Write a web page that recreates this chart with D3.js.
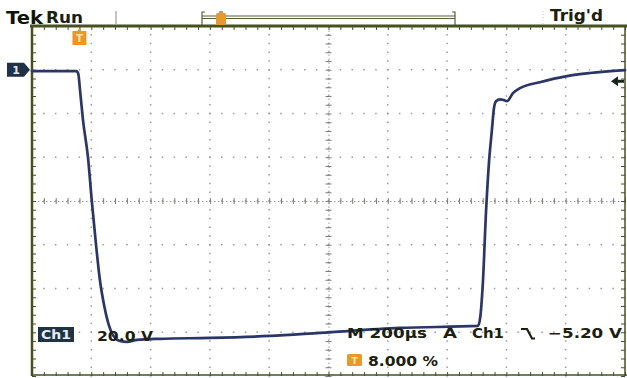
<!DOCTYPE html>
<html><head><meta charset="utf-8">
<script src="https://cdn.jsdelivr.net/npm/d3@7"></script>
<style>html,body{margin:0;padding:0;background:#fff;}svg{display:block;}</style>
</head><body>
<script>
// Waveform samples (time in µs relative to trigger, voltage in V)
const timeUs = [-160, -10, -4, 2, 12, 29, 42, 56, 69, 83, 96, 113, 137, 160, 194, 272, 440, 643, 811, 1081, 1344, 1351, 1361, 1371, 1381, 1391, 1398, 1405, 1418, 1432, 1442, 1462, 1486, 1553, 1644, 1722, 1840];
const volts  = [-0.6, -0.6, -1.8, -9.3, -23, -40.3, -60.5, -80.1, -96.1, -107.5, -115.3, -121.3, -124, -124.4, -123.5, -123, -122.6, -121.7, -120.3, -118, -117.1, -113.9, -96.5, -65.7, -42.8, -27.7, -17.6, -14.4, -13.5, -13.9, -14.4, -10.7, -8.4, -5.7, -2.9, -1.5, -0.2];
// Screen settings
const timeDomain = [-160, 1840];   // 10 div x 200 µs, trigger at 8 %
const voltDomain = [-140, 20];     // 8 div x 20 V, ground 1 div below top
const timePerDiv = 200, voltPerDiv = 20;
const triggerLevel = -5.20;
const headerLabels = ["Tek", "Run", "Trig'd"];
const footerLabels = ["Ch1", "20.0 V", "M 200µs", "A", "Ch1", "−5.20 V", "8.000 %"];

const W = 627, H = 378;
const L = 32, R = 625, T = 26, B = 376;
const x = d3.scaleLinear().domain(timeDomain).range([L, R]);
const y = d3.scaleLinear().domain(voltDomain).range([B, T]);

const svg = d3.select("body").append("svg").attr("width", W).attr("height", H)
  .style("font-family", "'DejaVu Sans', sans-serif");
svg.append("rect").attr("width", W).attr("height", H).attr("fill", "#fff");

const frameCol = "#45521f", gridCol = "#9a9a96", textCol = "#1b200f", traceCol = "#2a3766", orange = "#e59a2e";

// Grid dots
const g = svg.append("g");
const majorT = d3.range(timeDomain[0], timeDomain[1] + 1, timePerDiv);
const majorV = d3.range(voltDomain[0], voltDomain[1] + 1, voltPerDiv);
const minorT = d3.range(timeDomain[0], timeDomain[1] + 1, timePerDiv / 5);
const minorV = d3.range(voltDomain[0], voltDomain[1] + 1, voltPerDiv / 5);
majorT.slice(1, -1).forEach(t => {
  minorV.forEach(v => g.append("rect").attr("x", x(t) - 0.75).attr("y", y(v) - 0.75).attr("width", 1.5).attr("height", 1.5).attr("fill", gridCol));
});
majorV.slice(1, -1).forEach(v => {
  minorT.forEach(t => g.append("rect").attr("x", x(t) - 0.75).attr("y", y(v) - 0.75).attr("width", 1.5).attr("height", 1.5).attr("fill", gridCol));
});

// Center crosshair with ticks
const tc = (timeDomain[0] + timeDomain[1]) / 2, vc = (voltDomain[0] + voltDomain[1]) / 2;
svg.append("g").attr("transform", `translate(0,${y(vc)})`)
  .call(d3.axisBottom(x).tickValues(minorT).tickSize(3).tickFormat(""))
  .call(s => { s.select(".domain").attr("stroke", gridCol).attr("stroke-dasharray", "1.5,2.5"); s.selectAll(".tick line").attr("stroke", "#7d7d78").attr("y1", -3); });
svg.append("g").attr("transform", `translate(${x(tc)},0)`)
  .call(d3.axisLeft(y).tickValues(minorV).tickSize(3).tickFormat(""))
  .call(s => { s.select(".domain").attr("stroke", gridCol).attr("stroke-dasharray", "1.5,2.5"); s.selectAll(".tick line").attr("stroke", "#7d7d78").attr("x1", 3); });

// Border ticks (inward)
function borderAxis(axis, tr) {
  svg.append("g").attr("transform", tr).call(axis.tickFormat(""))
    .call(s => { s.select(".domain").remove(); s.selectAll(".tick line").attr("stroke", frameCol).attr("stroke-width", 1); });
}
borderAxis(d3.axisBottom(x).tickValues(minorT).tickSize(4), `translate(0,${T})`);
borderAxis(d3.axisTop(x).tickValues(minorT).tickSize(4), `translate(0,${B})`);
borderAxis(d3.axisRight(y).tickValues(minorV).tickSize(4), `translate(${L},0)`);
borderAxis(d3.axisLeft(y).tickValues(minorV).tickSize(4), `translate(${R},0)`);

// Frame
svg.append("line").attr("x1", L - 2).attr("x2", W).attr("y1", T).attr("y2", T).attr("stroke", frameCol).attr("stroke-width", 2.8);
svg.append("line").attr("x1", L).attr("x2", L).attr("y1", T).attr("y2", B).attr("stroke", frameCol).attr("stroke-width", 2.5);
svg.append("line").attr("x1", R).attr("x2", R).attr("y1", T).attr("y2", B).attr("stroke", frameCol).attr("stroke-width", 1.5);
svg.append("line").attr("x1", L).attr("x2", W).attr("y1", B - 1).attr("y2", B - 1).attr("stroke", frameCol).attr("stroke-width", 1.5);

// Trace
const pts = timeUs.map((t, i) => [t, volts[i]]);
svg.append("path").datum(pts)
  .attr("d", d3.line().x(d => x(d[0])).y(d => y(d[1])).curve(d3.curveMonotoneX))
  .attr("fill", "none").attr("stroke", traceCol).attr("stroke-width", 2.7).attr("stroke-linejoin", "round").attr("stroke-linecap", "round");

// Header
function txt(s, x0, yb, size, len, col, weight) {
  return svg.append("text").attr("x", x0).attr("y", yb).attr("font-size", size).attr("font-weight", weight || "bold")
    .attr("fill", col || textCol).attr("textLength", len).attr("lengthAdjust", "spacingAndGlyphs").text(s);
}
txt(headerLabels[0], 6, 24, 18, 37, "#111508");
txt(headerLabels[1], 46, 23, 15, 37);
txt(headerLabels[2], 550, 21, 15, 53);
svg.append("line").attr("x1", 116).attr("x2", 116).attr("y1", 11).attr("y2", 24).attr("stroke", "#8a8a80").attr("stroke-width", 1);
svg.append("line").attr("x1", 543).attr("x2", 543).attr("y1", 11).attr("y2", 24).attr("stroke", "#c8c8c0").attr("stroke-width", 1).attr("stroke-dasharray", "1,2");
// record bracket
svg.append("path").attr("d", "M205,12 H202 V25 M202,16 H455 M202,18.5 H455 M452,12 H455 V25")
  .attr("fill", "none").attr("stroke", "#55603a").attr("stroke-width", 1.2);
// orange trigger marker in record bar
svg.append("rect").attr("x", 216).attr("y", 13).attr("width", 10).attr("height", 12).attr("rx", 1.5).attr("fill", orange);
svg.append("rect").attr("x", 219).attr("y", 11).attr("width", 4).attr("height", 3).attr("fill", orange);

// trigger position marker under top border
const tx = x(0);
svg.append("path").attr("d", `M${tx - 7},31 H${tx - 2} L${tx},28 L${tx + 2},31 H${tx + 7} V45 H${tx - 7} Z`).attr("fill", orange);
svg.append("text").attr("x", tx).attr("y", 42).attr("text-anchor", "middle").attr("font-size", 10).attr("font-weight", "bold").attr("fill", "#fbe2b8").text("T");

// Channel 1 ground marker
const gy = y(0);
svg.append("path").attr("d", `M7,${gy - 7} H24 L30,${gy} L24,${gy + 7} H7 Z`).attr("fill", "#1f3048");
svg.append("text").attr("x", 16).attr("y", gy + 4.5).attr("text-anchor", "middle").attr("font-size", 11).attr("font-weight", "bold").attr("fill", "#dfe6ee").text("1");

// Trigger level arrow on right
const ty = y(triggerLevel);
svg.append("path").attr("d", `M611,${ty} L618,${ty - 5} V${ty - 1.5} H624 V${ty + 1.5} H618 V${ty + 5} Z`).attr("fill", "#1c2420");

// Footer readouts
svg.append("rect").attr("x", 38).attr("y", 327).attr("width", 36).attr("height", 15).attr("fill", "#1f3342");
txt(footerLabels[0], 41, 339, 12, 30, "#e6eef2");
txt(footerLabels[1], 97, 341, 14, 56);
txt(footerLabels[2], 347, 338, 14, 80);
txt(footerLabels[3], 443, 338, 14, 14);
txt(footerLabels[4], 472, 338, 14, 32);
svg.append("path").attr("d", "M521,329 H527 L532,338.5 H535").attr("fill", "none").attr("stroke", textCol).attr("stroke-width", 2.2);
txt(footerLabels[5], 548, 338, 14, 74);
svg.append("rect").attr("x", 347).attr("y", 354).attr("width", 15).attr("height", 12).attr("rx", 1.5).attr("fill", orange);
svg.append("text").attr("x", 354.5).attr("y", 364).attr("text-anchor", "middle").attr("font-size", 9).attr("font-weight", "bold").attr("fill", "#fbe2b8").text("T");
txt(footerLabels[6], 368, 366, 14, 70);
</script>
</body></html>
